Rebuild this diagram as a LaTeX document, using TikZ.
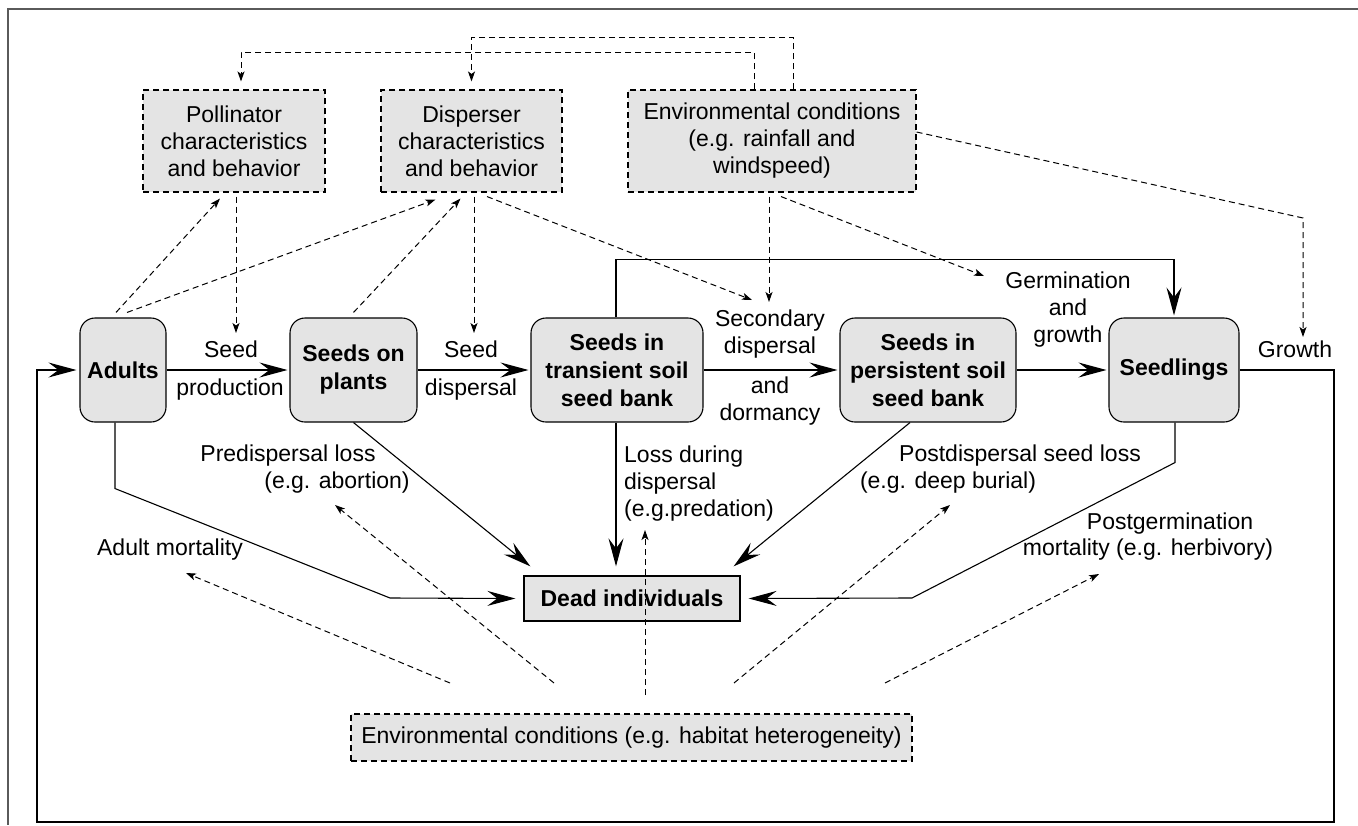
\documentclass[tikz,border=0pt]{standalone}
\usepackage{fontspec}
\setmainfont{Liberation Sans}
\usetikzlibrary{arrows.meta}
\definecolor{boxgray}{RGB}{228,228,228}
\definecolor{framegray}{RGB}{90,90,90}
\begin{document}
\begin{tikzpicture}[x=1pt,y=-1pt, font=\fontsize{23}{27}\selectfont,
  mainbox/.style={draw, fill=boxgray, rounded corners=15pt, line width=1.1pt,
    font=\fontsize{23}{28}\selectfont\bfseries, align=center, inner sep=0pt, minimum height=104pt},
  dbox/.style={draw, fill=boxgray, dash pattern=on 6pt off 4pt, line width=1.1pt,
    align=center, inner sep=0pt, minimum height=102pt},
  deadbox/.style={draw, fill=boxgray, line width=1.3pt, font=\fontsize{23}{27}\selectfont\bfseries,
    inner sep=0pt, minimum width=216pt, minimum height=45pt},
  mainarr/.style={line width=1.1pt, -{Stealth[length=28pt,width=15pt,inset=10pt]}},
  dasharr/.style={line width=1pt, dash pattern=on 6pt off 4pt, -{Stealth[length=10pt,width=7pt,inset=2.5pt]}},
  lbl/.style={inner sep=0pt, align=center}]
\useasboundingbox (0,0) rectangle (1358,825);
% outer frame
\draw[framegray, line width=1.5pt] (1358,9) -- (8,9) -- (8,825);

% boxes
\node[dbox, minimum width=182pt] (poll) at (234,141) {Pollinator\\characteristics\\and behavior};
\node[dbox, minimum width=181pt] (disp) at (471.5,141) {Disperser\\characteristics\\and behavior};
\node[dbox, minimum width=288pt] (envtop) at (772,141) {Environmental conditions\\(e.g. rainfall and\\windspeed)};
\node[mainbox, minimum width=86pt] (adults) at (123,370) {Adults};
\node[mainbox, minimum width=127pt] (plants) at (353.5,370) {Seeds on\\plants};
\node[mainbox, minimum width=172pt] (trans) at (617,370) {Seeds in\\transient soil\\seed bank};
\node[mainbox, minimum width=176pt] (pers) at (928,370) {Seeds in\\persistent soil\\seed bank};
\node[mainbox, minimum width=130pt] (seedl) at (1174,370) {Seedlings};
\node[deadbox] (dead) at (632,598.5) {Dead individuals};
\node[dbox, minimum width=561pt, minimum height=47pt] (envbot) at (631.5,737.5) {Environmental conditions (e.g. habitat heterogeneity)};

% free coordinates
\coordinate (tSeedA) at (236,333);
\coordinate (tSeedB) at (474,333);
\coordinate (tSec1) at (752,300);
\coordinate (tSec2) at (769,302);
\coordinate (tGerm) at (984,276);
\coordinate (bendGrowth) at (1303,218);
\coordinate (tGrowth) at (1303,337);
\coordinate (sAdM) at (450,683);
\coordinate (tAdM) at (186,573);
\coordinate (sAbort) at (554,683);
\coordinate (tAbort) at (335,505);
\coordinate (sPred) at (645,695);
\coordinate (tPred) at (645,530);
\coordinate (sBurial) at (734,683);
\coordinate (tBurial) at (950,505);
\coordinate (sHerb) at (885,683);
\coordinate (tHerb) at (1099,574);
\coordinate (fbR) at (1334,370);
\coordinate (fbB) at (37,822);

% top dashed connectors
\draw[dasharr] ([xshift=21pt]envtop.north) -- ++(0,-52) -| ([yshift=8pt]disp.north);
\draw[dasharr] ([xshift=-18pt]envtop.north) -- ++(0,-37) -| ([xshift=7pt,yshift=8pt]poll.north);

% main flow
\draw[mainarr, shorten >=2pt] (adults) -- (plants);
\draw[mainarr, shorten >=2pt] (plants) -- (trans);
\draw[mainarr, shorten >=2pt] (trans) -- (pers);
\draw[mainarr, shorten >=2pt] (pers) -- (seedl);
\draw[mainarr, shorten >=2pt] ([xshift=-1pt]trans.north) -- ++(0,-58) -| (seedl.north);
\draw[mainarr, shorten >=3pt] (seedl.east) -- (fbR) |- (fbB) |- (adults.west);

% losses
\draw[mainarr] ([xshift=-8pt]adults.south) -- ++(0,66) -- (390,598) -- ([xshift=-8pt]dead.west);
\draw[mainarr] (plants.south) -- ([xshift=7pt,yshift=9pt]dead.north west);
\draw[mainarr] ([xshift=-1pt]trans.south) -- ([xshift=-16pt,yshift=9pt]dead.north);
\draw[mainarr] ([xshift=-18pt]pers.south) -- ([xshift=-7pt,yshift=9pt]dead.north east);
\draw[mainarr] ([xshift=1pt]seedl.south) -- ++(0,40) -- (912,598) -- ([xshift=8pt]dead.east);

% dashed influences (upper)
\draw[dasharr] ([xshift=-7pt,yshift=5pt]adults.north) -- ([xshift=-14pt,yshift=-6pt]poll.south);
\draw[dasharr] ([xshift=4pt,yshift=5pt]adults.north) -- ([xshift=-36pt,yshift=-7pt]disp.south);
\draw[dasharr] ([yshift=5pt]plants.north) -- ([xshift=-11pt,yshift=-6pt]disp.south);
\draw[dasharr] ([xshift=2pt,yshift=-4pt]poll.south) -- (tSeedA);
\draw[dasharr] ([xshift=2.5pt,yshift=-4pt]disp.south) -- (tSeedB);
\draw[dasharr] ([xshift=15.5pt,yshift=-4pt]disp.south) -- (tSec1);
\draw[dasharr] ([xshift=-3pt,yshift=-4pt]envtop.south) -- (tSec2);
\draw[dasharr] ([xshift=9pt,yshift=-4pt]envtop.south) -- (tGerm);
\draw[dasharr] ([yshift=9pt]envtop.east) -- (bendGrowth) -- (tGrowth);

% dashed influences (lower)
\draw[dasharr] (sAdM) -- (tAdM);
\draw[dasharr] (sAbort) -- (tAbort);
\draw[dasharr] (sPred) -- (tPred);
\draw[dasharr] (sBurial) -- (tBurial);
\draw[dasharr] (sHerb) -- (tHerb);

% labels
\node[lbl] (lSeed1) at (231,349) {Seed};
\node[lbl] (lProd) at (230,390) {production};
\node[lbl] (lSeed2) at (471,349) {Seed};
\node[lbl] (lDisp) at (471,390) {dispersal};
\node[lbl] (lSec) at (770,334) {Secondary\\dispersal};
\node[lbl] (lDorm) at (770,401) {and\\dormancy};
\node[lbl] (lGerm) at (1068,310) {Germination\\and\\growth};
\node[lbl] (lGrowth) at (1295,349) {Growth};
\node[lbl] (lPre1) at (288,456) {Predispersal loss};
\node[lbl] (lPre2) at (337,483) {(e.g. abortion)};
\node[lbl] (lAdM) at (170,550) {Adult mortality};
\node[lbl, align=left, anchor=west] (lLoss) at (624,484) {Loss during\\dispersal\\(e.g.predation)};
\node[lbl] (lPost1) at (1020,456) {Postdispersal seed loss};
\node[lbl] (lPost2) at (948,483) {(e.g. deep burial)};
\node[lbl] (lPg1) at (1170,524) {Postgermination};
\node[lbl] (lPg2) at (1148,550) {mortality (e.g. herbivory)};
\end{tikzpicture}
\end{document}
